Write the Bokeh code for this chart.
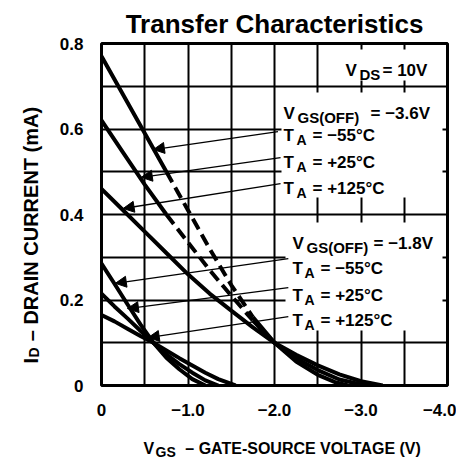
import math
from bokeh.plotting import figure
from bokeh.models import Range1d, FixedTicker, Label, Arrow, NormalHead, ColumnDataSource
from bokeh.embed import file_html
from bokeh.resources import INLINE

# ---------------- data ----------------
x_ticks = [0, -1, -2, -3, -4]
x_tick_labels = ["0", "\u22121.0", "\u22122.0", "\u22123.0", "\u22124.0"]
y_ticks = [0, 0.2, 0.4, 0.6, 0.8]
y_tick_labels = ["0", "0.2", "0.4", "0.6", "0.8"]
x_grid = [0, -0.5, -1.0, -1.5, -2.0, -2.5, -3.0, -3.5, -4.0]
y_grid = [0, 0.1, 0.2, 0.3, 0.4, 0.5, 0.6, 0.7, 0.8]

# VGS(OFF) = -3.6 V family
vgs_a_m55 = [0, -0.25, -0.5, -0.75, -1.0, -1.25, -1.5, -1.75, -2.0, -2.25, -2.5, -2.7, -2.85]
id_a_m55 = [0.77, 0.68, 0.59, 0.50, 0.41, 0.32, 0.235, 0.16, 0.10, 0.056, 0.025, 0.008, 0.0]
vgs_a_p25 = [0, -0.25, -0.5, -0.75, -1.0, -1.25, -1.5, -1.75, -2.0, -2.25, -2.5, -2.75, -3.05]
id_a_p25 = [0.62, 0.545, 0.47, 0.40, 0.335, 0.27, 0.21, 0.152, 0.10, 0.064, 0.036, 0.014, 0.0]
vgs_a_p125 = [0, -0.25, -0.5, -0.75, -1.0, -1.25, -1.5, -1.75, -2.0, -2.25, -2.5, -2.75, -3.0, -3.25]
id_a_p125 = [0.46, 0.41, 0.36, 0.31, 0.26, 0.215, 0.175, 0.136, 0.10, 0.072, 0.047, 0.026, 0.01, 0.0]

# VGS(OFF) = -1.8 V family
vgs_b_m55 = [0, -0.15, -0.3, -0.45, -0.6, -0.75, -0.9, -1.05, -1.2]
id_b_m55 = [0.285, 0.238, 0.19, 0.143, 0.10, 0.065, 0.038, 0.015, 0.0]
vgs_b_p25 = [0, -0.15, -0.3, -0.45, -0.6, -0.75, -0.9, -1.05, -1.2, -1.35]
id_b_p25 = [0.215, 0.185, 0.157, 0.128, 0.10, 0.073, 0.05, 0.03, 0.012, 0.0]
vgs_b_p125 = [0, -0.15, -0.3, -0.45, -0.6, -0.75, -0.9, -1.05, -1.2, -1.35, -1.55]
id_b_p125 = [0.165, 0.15, 0.133, 0.116, 0.10, 0.082, 0.064, 0.047, 0.03, 0.015, 0.0]

# arrows from the labels to the curves
arrow_tail_v = [-2.04, -2.07, -2.07, -2.16, -2.16, -2.16]
arrow_tail_i = [0.594, 0.533, 0.472, 0.297, 0.229, 0.161]
arrow_tip_v = [-0.60, -0.46, -0.25, -0.16, -0.30, -0.54]
arrow_tip_i = [0.552, 0.487, 0.414, 0.239, 0.180, 0.112]

# ---------------- layout ----------------
W, H = 456, 460
ML, MT = 101, 43
FW, FH = 346, 342
MR, MB = W - ML - FW, H - MT - FH
X0, X1, Y0, Y1 = 0.0, -4.0, 0.0, 0.8

def dx(px):
    return X0 + (px - ML) * (X1 - X0) / FW

def dy(py):
    return Y1 - (py - MT) * (Y1 - Y0) / FH

FONT = "Liberation Sans"
NB = "\u00a0"

p = figure(width=W, height=H, output_backend="svg", toolbar_location=None,
           x_range=Range1d(X0, X1), y_range=Range1d(Y0, Y1),
           min_border_left=ML, min_border_right=MR, min_border_top=MT, min_border_bottom=MB,
           background_fill_color="white", border_fill_color="white")
p.outline_line_color = "black"
p.outline_line_width = 3

for ax in (p.xaxis[0], p.yaxis[0]):
    ax.axis_line_color = None
    ax.major_tick_line_color = None
    ax.minor_tick_line_color = None
    ax.major_tick_out = 0
    ax.major_tick_in = 0
    ax.minor_tick_out = 0
    ax.major_label_text_font = FONT
    ax.major_label_text_font_style = "bold"
    ax.major_label_text_font_size = "17px"
    ax.major_label_text_color = "black"

p.xaxis.ticker = FixedTicker(ticks=x_ticks)
p.xaxis.major_label_overrides = {t: s for t, s in zip(x_ticks, x_tick_labels)}
p.xaxis.major_label_standoff = 18
p.yaxis.ticker = FixedTicker(ticks=y_ticks)
p.yaxis.major_label_overrides = {t: s for t, s in zip(y_ticks, y_tick_labels)}
p.yaxis.major_label_standoff = 18

p.xgrid.ticker = FixedTicker(ticks=x_grid)
p.ygrid.ticker = FixedTicker(ticks=y_grid)
for g in (p.xgrid[0], p.ygrid[0]):
    g.grid_line_color = "black"
    g.grid_line_width = 2
    g.grid_line_alpha = 1.0

# white boxes behind the label blocks
for l, r, t, b in [(329, 443, 49, 80), (281, 442, 92, 197), (285, 442, 222, 330)]:
    p.quad(left=dx(l), right=dx(r), top=dy(t), bottom=dy(b),
           fill_color="white", line_color=None)

LW = 4

def draw(v, i, dashed=None):
    if dashed is None:
        p.line(v, i, line_width=LW, color="black")
        return
    a, b = dashed
    p.line(v[:a + 1], i[:a + 1], line_width=LW, color="black")
    p.line(v[a:b + 1], i[a:b + 1], line_width=LW, color="black", line_dash="12 6")
    p.line(v[b:], i[b:], line_width=LW, color="black")

draw(vgs_a_m55, id_a_m55, (3, 7))
draw(vgs_a_p25, id_a_p25, (3, 7))
draw(vgs_a_p125, id_a_p125)
draw(vgs_b_m55, id_b_m55)
draw(vgs_b_p25, id_b_p25)
draw(vgs_b_p125, id_b_p125)

src = ColumnDataSource(dict(x0=arrow_tail_v, y0=arrow_tail_i, x1=arrow_tip_v, y1=arrow_tip_i))
p.add_layout(Arrow(end=NormalHead(size=11, fill_color="black", line_color="black", line_width=1),
                   x_start="x0", y_start="y0", x_end="x1", y_end="y1", source=src,
                   line_width=1.3, line_color="black"))

def lab(text, px, py, size, align="left", angle=0.0, place="center", baseline="alphabetic"):
    lbl = Label(x=dx(px), y=dy(py), text=text, text_font=FONT, text_font_style="bold",
                text_font_size=f"{size}px", text_color="black", text_align=align,
                text_baseline=baseline, angle=angle)
    if place == "center":
        p.add_layout(lbl)
    else:
        p.add_layout(lbl, place)

# title (above panel)
lab("Transfer Characteristics", 274, 23, 26, align="center", place="above", baseline="middle")

# x axis label (below panel): main text with a gap for the subscript
lab("V" + NB * 7 + "\u2013 GATE-SOURCE VOLTAGE (V)", 143, 448, 16, place="below", baseline="middle")
lab("GS", 155, 451, 14, place="below", baseline="middle")

# y axis label (left panel, rotated)
lab("I" + NB * 3 + "\u2013 DRAIN CURRENT (mA)", 30, 363, 20, angle=math.pi / 2,
    place="left", baseline="middle")
lab("D", 33, 357, 14, angle=math.pi / 2, place="left", baseline="middle")

# V_DS
lab("V", 345, 70, 17)
lab("DS", 359, 74, 15)
lab("= 10V", 382, 70, 17)

# family A
lab("V", 283, 113, 17)
lab("GS(OFF)", 297, 117, 15)
lab("= \u22123.6V", 370, 113, 17)
for txt, base in [("= \u221255\u00b0C", 135), ("= +25\u00b0C", 162), ("= +125\u00b0C", 188)]:
    lab("T", 283, base, 17)
    lab("A", 296, base + 4, 14)
    lab(txt, 312, base, 17)

# family B
lab("V", 292, 243, 17)
lab("GS(OFF)", 306, 247, 15)
lab("= \u22121.8V", 373, 243, 17)
for txt, base in [("= \u221255\u00b0C", 268), ("= +25\u00b0C", 295), ("= +125\u00b0C", 320)]:
    lab("T", 292, base, 17)
    lab("A", 304, base + 4, 14)
    lab(txt, 320, base, 17)

open("out.html", "w").write(file_html(p, INLINE))
